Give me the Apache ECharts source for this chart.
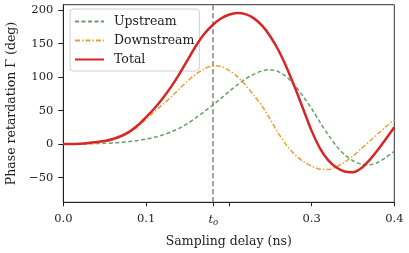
<!DOCTYPE html>
<html><head><meta charset="utf-8">
<script src="https://cdn.jsdelivr.net/npm/echarts@6/dist/echarts.min.js"></script>
<style>html,body{margin:0;padding:0;background:#fff}#c{width:409px;height:253px}</style>
</head><body><div id="c"></div>
<script>
const delay = [0,0.01,0.02,0.03,0.04,0.05,0.06,0.07,0.08,0.09,0.10,0.11,0.12,0.13,0.14,0.15,0.16,0.17,0.18,0.19,0.20,0.21,0.22,0.23,0.24,0.25,0.26,0.27,0.28,0.29,0.30,0.31,0.32,0.33,0.34,0.35,0.36,0.37,0.38,0.39,0.40];
const upstream = [0,0,0.1,0.3,0.6,1,1.6,2.5,3.7,5.3,7.4,10,13.5,18,23.5,30.5,39,48,57.5,67.5,78,88,97,104,109,111,108,100,87,71,53,33,14,-3,-16,-25,-30,-31,-27.5,-20,-11];
const downstream = [0,0,0.3,0.8,1.8,3.5,6.5,11,17,26,37,48,59,70,82,94,104,112,116.5,116,110,101,88,73,57,37,16,-2,-16,-26,-33,-37.5,-38,-34,-27,-18,-7,4,15,26,36];
const total = [0,0,0.5,1.5,3,4.5,7.5,12,18.5,28,40,53,68,85,104,125,146,164,177,187,193,195.5,194,188,177,161,140,114,84,52,20,-6,-24,-35,-41,-42,-36,-24,-9,8,25];
const tO = 0.1813;
const xTicks = [0,0.1,tO,0.2,0.3,0.4];
const xLabels = [0,0.1,tO,0.3,0.4];
const yTicks = [-50,0,50,100,150,200];

const pairs = ys => delay.map((x,i)=>[x,ys[i]]);
const font = 'DejaVu Serif';
const ink = '#222';
const chart = echarts.init(document.getElementById('c'));
chart.setOption({
  animation:false,
  textStyle:{fontFamily:font},
  grid:{left:63.3,right:14.7,top:4.7,bottom:50.7,outerBoundsMode:'none',containLabel:false,show:true,borderColor:'#333',borderWidth:1,backgroundColor:'transparent'},
  legend:{
    orient:'vertical',left:70,top:9,itemWidth:29,itemHeight:10,itemGap:6,
    padding:[6,5,5,4],
    backgroundColor:'rgba(255,255,255,0.8)',borderColor:'#d0d0d0',borderWidth:1,borderRadius:3,
    itemStyle:{opacity:0},
    textStyle:{fontFamily:font,fontSize:12.5,color:ink,padding:[0,0,0,5]},
    data:['Upstream','Downstream','Total']
  },
  xAxis:{
    type:'value',min:0,max:0.4,
    name:'Sampling delay (ns)',nameLocation:'middle',nameGap:33,
    nameTextStyle:{fontFamily:font,fontSize:12.5,color:ink},
    axisLine:{onZero:false,lineStyle:{color:ink,width:1}},
    axisTick:{show:true,length:4,customValues:xTicks,lineStyle:{color:ink}},
    axisLabel:{customValues:xLabels,margin:11,fontFamily:font,fontSize:11.5,color:ink,
      formatter:v=>Math.abs(v-tO)<1e-6?'{t|t}{o|o}':v.toFixed(1),
      rich:{t:{fontStyle:'italic',fontFamily:font,fontSize:11.5,color:ink},o:{fontStyle:'italic',fontFamily:font,fontSize:8.5,color:ink,verticalAlign:'bottom',padding:[5,0,0,0]}}},
    splitLine:{show:false}
  },
  yAxis:{
    type:'value',min:-87,max:208,
    name:'Phase retardation Γ (deg)',nameLocation:'middle',nameGap:40,
    nameTextStyle:{fontFamily:font,fontSize:12.5,color:ink},
    axisLine:{show:true,onZero:false,lineStyle:{color:ink,width:1}},
    axisTick:{show:true,length:5,customValues:yTicks,lineStyle:{color:ink}},
    axisLabel:{customValues:yTicks,margin:10,fontFamily:font,fontSize:11.5,color:ink,
      formatter:v=>v<0?'\u2212'+Math.abs(v):String(v)},
    splitLine:{show:false}
  },
  series:[
    {name:'Upstream',type:'line',data:pairs(upstream),smooth:0.3,symbol:'none',z:3,
     lineStyle:{color:'#67a066',width:1.5,type:[4,2.5]},itemStyle:{color:'#67a066'},
     markLine:{silent:true,symbol:'none',label:{show:false},
       lineStyle:{color:'#7f7f7f',width:1.5,type:[5,3]},data:[{xAxis:tO}]}},
    {name:'Downstream',type:'line',data:pairs(downstream),smooth:0.3,symbol:'none',z:4,
     lineStyle:{color:'#e5a32e',width:1.5,type:[5,2,1.5,2]},itemStyle:{color:'#e5a32e'}},
    {name:'Total',type:'line',data:pairs(total),smooth:0.3,symbol:'none',z:5,
     lineStyle:{color:'#d62728',width:2.5},itemStyle:{color:'#d62728'}}
  ]
});
</script></body></html>
